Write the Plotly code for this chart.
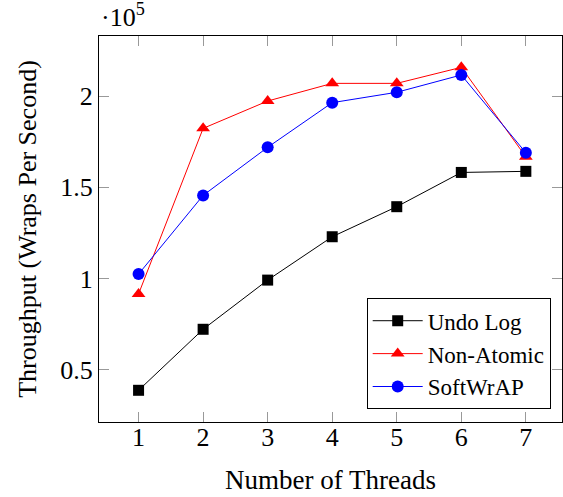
import plotly.graph_objects as go

threads = [1, 2, 3, 4, 5, 6, 7]
undo_log = [0.386, 0.721, 0.991, 1.229, 1.394, 1.582, 1.588]
non_atomic = [0.915, 1.824, 1.974, 2.071, 2.071, 2.159, 1.668]
softwrap = [1.024, 1.456, 1.720, 1.965, 2.022, 2.117, 1.690]
y_ticks = [0.5, 1, 1.5, 2]
y_tick_text = ["0.5", "1", "1.5", "2"]

FONT = "Liberation Serif"

fig = go.Figure()
fig.add_trace(go.Scatter(x=threads, y=undo_log, name="Undo Log", mode="lines+markers",
                         line=dict(color="black", width=1),
                         marker=dict(symbol="square", size=11, color="black")))
fig.add_trace(go.Scatter(x=threads, y=non_atomic, name="Non-Atomic", mode="lines+markers",
                         line=dict(color="red", width=1),
                         marker=dict(symbol="triangle-up", size=12, color="red")))
fig.add_trace(go.Scatter(x=threads, y=softwrap, name="SoftWrAP", mode="lines+markers",
                         line=dict(color="blue", width=1),
                         marker=dict(symbol="circle", size=12, color="blue")))

axis_common = dict(showline=True, linecolor="black", linewidth=1, mirror="ticks",
                   ticks="inside", ticklen=10, tickcolor="#999999", tickwidth=1,
                   showgrid=False, zeroline=False,
                   tickfont=dict(family=FONT, size=26, color="black"))

fig.update_xaxes(range=[0.387, 7.56], tickvals=threads, ticklabelstandoff=-8,
                 title=dict(text="Number of Threads", font=dict(family=FONT, size=27, color="black"),
                            standoff=18),
                 **axis_common)
fig.update_yaxes(range=[0.212, 2.331], tickvals=y_ticks, ticktext=y_tick_text,
                 title=dict(text="Throughput (Wraps Per Second)", font=dict(family=FONT, size=26, color="black"),
                            standoff=16),
                 **axis_common)

fig.add_annotation(text="·10<sup>5</sup>", xref="paper", yref="paper", x=0.0, y=1.0,
                   xanchor="left", yanchor="bottom", yshift=2, showarrow=False,
                   font=dict(family=FONT, size=26, color="black"))

fig.update_layout(
    width=563, height=497,
    margin=dict(l=99, r=1, t=36, b=75),
    plot_bgcolor="white", paper_bgcolor="white",
    font=dict(family=FONT, size=23, color="black"),
    legend=dict(x=0.9756, y=0.033, xanchor="right", yanchor="bottom",
                bordercolor="black", borderwidth=1, bgcolor="white", itemwidth=50,
                font=dict(family=FONT, size=23, color="black")),
)

fig.write_html("out.html")
